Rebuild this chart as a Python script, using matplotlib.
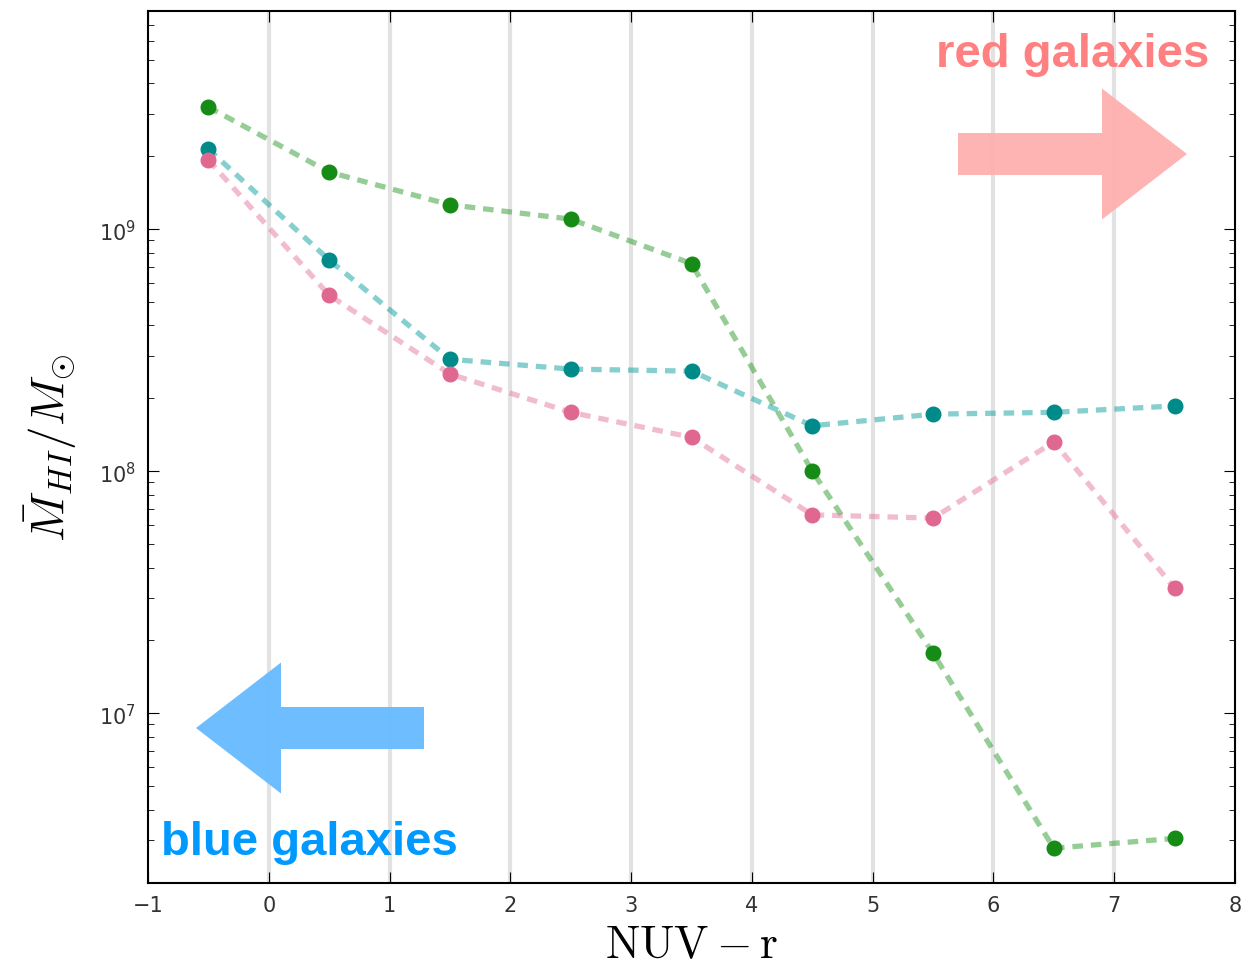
import numpy as np
import matplotlib
matplotlib.use("Agg")
import matplotlib.pyplot as plt
from matplotlib.patches import FancyArrow

plt.rcParams["mathtext.fontset"] = "cm"

# colour bins (NUV - r) and mean HI mass per bin
nuv_r = [-0.5, 0.5, 1.5, 2.5, 3.5, 4.5, 5.5, 6.5, 7.5]
mhi_green = [3.19e9, 1.72e9, 1.26e9, 1.10e9, 7.2e8, 1.0e8, 1.77e7, 2.77e6, 3.04e6]
mhi_teal = [2.14e9, 7.45e8, 2.90e8, 2.64e8, 2.59e8, 1.54e8, 1.72e8, 1.75e8, 1.86e8]
mhi_pink = [1.93e9, 5.33e8, 2.52e8, 1.75e8, 1.38e8, 6.6e7, 6.4e7, 1.32e8, 3.29e7]

xticks = [-1, 0, 1, 2, 3, 4, 5, 6, 7, 8]

fig = plt.figure(figsize=(12.59, 9.70), dpi=100)
ax = fig.add_axes([0.1176, 0.0887, 0.8633, 0.8989])

for xv in range(0, 8):
    ax.axvline(xv, color="#e2e2e2", lw=3, zorder=0)

series = [
    (mhi_green, "#168c16", "#2e9a2e"),
    (mhi_teal, "#008b8b", "#10a0a0"),
    (mhi_pink, "#e06890", "#e67aa0"),
]
for vals, mcol, lcol in series:
    ax.plot(nuv_r, vals, ls=(0, (2.0, 1.5)), lw=3.8, color=lcol, alpha=0.5,
            dash_capstyle="butt", zorder=2)
    ax.plot(nuv_r, vals, ls="none", marker="o", ms=10.5, color=mcol, zorder=3)

ax.set_yscale("log")
ax.set_xlim(-1, 8)
ax.set_ylim(1.99e6, 7.96e9)
ax.set_xticks(xticks)
ax.tick_params(which="both", direction="in", top=True, right=True,
               labelsize=15, labelcolor="#333333", pad=9)
ax.tick_params(which="major", length=8)
ax.tick_params(which="minor", length=4)
for s in ax.spines.values():
    s.set_linewidth(1.5)

ax.set_xlabel(r"$\mathrm{NUV-r}$", fontsize=33, labelpad=5)
ax.set_ylabel(r"$\bar{M}_{HI}/M_{\odot}$", fontsize=34, labelpad=14)

# annotation arrows and labels in figure pixel coordinates
H = 970.0
def fy(py):
    return H - py

blue_arrow = FancyArrow(424, fy(729), -228, 0, width=42, head_width=131,
                        head_length=85, length_includes_head=True,
                        transform=None, color="#66bbff", lw=0, alpha=0.95)
red_arrow = FancyArrow(958, fy(155), 229, 0, width=42, head_width=131,
                       head_length=85, length_includes_head=True,
                       transform=None, color="#ffb0b0", lw=0, alpha=0.95)
fig.patches.extend([blue_arrow, red_arrow])

fig.text(161 / 1259, fy(843) / H, "blue galaxies", color="#0099ff",
         fontsize=34, fontweight="bold", family="Liberation Sans", va="center", ha="left")
fig.text(1209 / 1259, fy(55) / H, "red galaxies", color="#ff8080",
         fontsize=34, fontweight="bold", family="Liberation Sans", va="center", ha="right")

fig.savefig("out.png", dpi=100)
